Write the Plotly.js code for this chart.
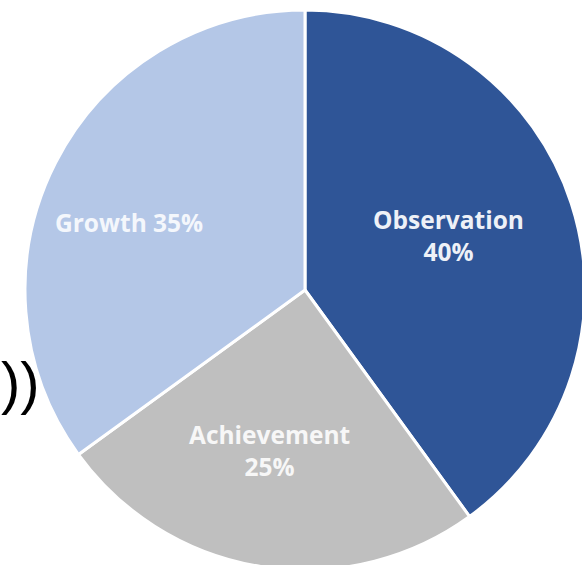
<!DOCTYPE html>
<html>
<head>
<meta charset="utf-8">
<script src="https://cdn.plot.ly/plotly-3.0.1.min.js"></script>
<style>
html,body{margin:0;padding:0;background:#fff;overflow:hidden;width:582px;height:565px;}
#chart{width:610px;height:580px;}
</style>
</head>
<body>
<div id="chart"></div>
<script>
var categories = ["Observation", "Achievement", "Growth"];
var values = [40, 25, 35];
var sliceLabels = ["Observation<br>40%", "Achievement<br>25%", "Growth 35%"];
var colors = ["#2F5597", "#BFBFBF", "#B4C7E7"];
var labelColors = ["#EEF1F7", "#F7F7F7", "#F4F7FC"];

// label anchor points (paper coords) for each slice's text
var labelPos = [[0.757, 0.598], [0.436, 0.213], [0.185, 0.621]];

var trace = {
  type: "pie",
  labels: categories,
  values: values,
  textinfo: "none",
  sort: false,
  direction: "clockwise",
  rotation: 0,
  marker: {colors: colors, line: {color: "#FFFFFF", width: 3}},
  showlegend: false,
  domain: {x: [0, 1], y: [0, 1]}
};

var annotations = categories.map(function (c, i) {
  return {
    text: sliceLabels[i],
    xref: "paper", yref: "paper",
    x: labelPos[i][0], y: labelPos[i][1],
    xanchor: "center", yanchor: "middle",
    showarrow: false,
    font: {family: "Open Sans, sans-serif", size: 24.5, color: labelColors[i], weight: 700}
  };
});
annotations.push({
  text: "))",
  xref: "paper", yref: "paper",
  x: 0.03, y: 0.335,
  xanchor: "right", yanchor: "middle",
  showarrow: false,
  font: {family: "Liberation Sans, sans-serif", size: 58, color: "#000000"}
});

var layout = {
  width: 610,
  height: 580,
  margin: {l: 25, r: 25, t: 10, b: 10},
  paper_bgcolor: "#FFFFFF",
  plot_bgcolor: "#FFFFFF",
  showlegend: false,
  annotations: annotations
};

Plotly.newPlot("chart", [trace], layout, {displayModeBar: false, staticPlot: true});
</script>
</body>
</html>
